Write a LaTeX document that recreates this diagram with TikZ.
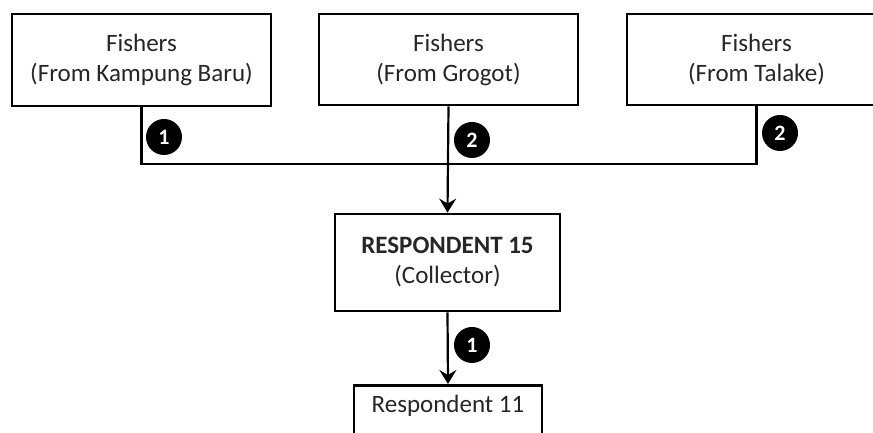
\documentclass[tikz,border=0pt]{standalone}
\usepackage{fontspec}
\setmainfont{Carlito}
\usetikzlibrary{arrows.meta}
\begin{document}
\begin{tikzpicture}[x=1pt,y=1pt,
  label text/.style={font=\fontsize{25}{30}\selectfont,text=black!85},
  box/.style={draw=black,line width=2.8pt,fill=white,align=center,inner sep=0pt,label text},
  link/.style={line width=2.2pt,draw=black},
  flow/.style={link,-{Stealth[length=14pt,width=17pt,inset=5pt]}},
  badge/.style={circle,fill=black,text=white,inner sep=0pt,minimum size=36pt,
    font=\fontsize{22}{22}\selectfont\bfseries}]
\useasboundingbox (0,0) rectangle (873,433);
\clip (0,0) rectangle (873,433);
% source groups of fishers
\node[box,minimum width=259pt,minimum height=92pt] (k) at (141.5,373) {Fishers\\(From Kampung Baru)};
\node[box,minimum width=259pt,minimum height=91pt] (g) at (448.5,373.5) {Fishers\\(From Grogot)};
\node[box,minimum width=259pt,minimum height=91pt] (t) at (756.5,373.5) {Fishers\\(From Talake)};
% collector and buyer
\node[box,minimum width=225pt,minimum height=97pt] (r15) at (447.5,170.5) {\textbf{RESPONDENT 15}\\(Collector)};
\node[box,minimum width=188pt,minimum height=80pt,anchor=north] (r11) at (448,49) {};
\node[label text] (r11t) at (448,27) {Respondent 11};
% connectors
\coordinate (bus) at (448,269);
\draw[link] (k.south) |- (bus) -| (t.south);
\draw[flow] (g.south) -- (r15.north);
\draw[flow] (r15.south) -- (r11.north);
% count badges
\node[badge] (b1) at (164,296) {1};
\node[badge] (b2) at (472,293) {2};
\node[badge] (b3) at (780,300) {2};
\node[badge] (b4) at (472,88) {1};
\end{tikzpicture}
\end{document}
